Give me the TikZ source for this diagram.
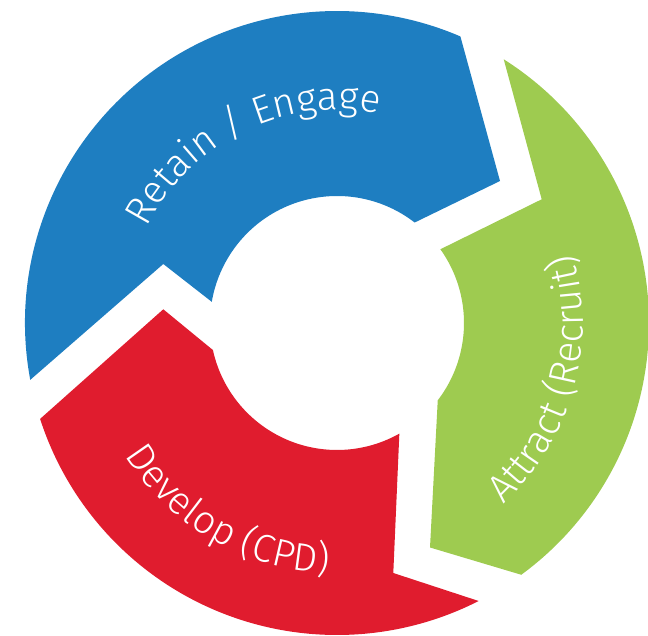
\documentclass[tikz,border=0pt]{standalone}
\usepackage{fontspec}
\IfFontExistsTF{FiraSans-Light.otf}{\setmainfont{FiraSans-Light.otf}\def\lblsize{39}}{%
  \IfFontExistsTF{Fira Sans Light}{\setmainfont{Fira Sans Light}\def\lblsize{39}}{%
    \setmainfont{Carlito}\def\lblsize{42}}}
\usetikzlibrary{decorations.text}
\definecolor{cblue}{RGB}{30,126,193}
\definecolor{cgreen}{RGB}{158,203,80}
\definecolor{cred}{RGB}{224,28,46}
\tikzset{
  lbl/.style={decorate, decoration={text along path, text align=center,
      text={|\fontsize{\lblsize}{44}\selectfont\color{white}|#1}}}
}
\begin{document}
\begin{tikzpicture}[x=1pt,y=1pt]
\useasboundingbox (0,0) rectangle (648,-636);
\begin{scope}[shift={(337,-323)}]
  % Blue: Retain / Engage
  \fill[cblue] (190.5:312) arc[start angle=190.5, end angle=66.7, radius=312]
     -- (163,142) -- (52.3:127) arc[start angle=52.3, end angle=170.4, radius=127]
     -- (-173.7,59) -- cycle;
  % Green: Attract (Recruit)
  \fill[cgreen] (57.7:312) arc[start angle=57.7, end angle=-53.8, radius=312]
     -- (93,-224.5) -- (-37.5:127) arc[start angle=-37.5, end angle=35.5, radius=127]
     -- (204.7,123.7) -- cycle;
  % Red: Develop (CPD)
  \fill[cred] (-173.7,13.7) -- (197.9:312) arc[start angle=197.9, end angle=297, radius=312]
     -- (56.3,-250) -- (299.4:127) arc[start angle=299.4, end angle=192.3, radius=127]
     -- cycle;
  % labels
  \path[lbl={Retain / Engage}] (166:213) arc[start angle=166, end angle=66, radius=213];
  \path[lbl={Attract (Recruit)}] (-67:246) arc[start angle=-67, end angle=36, radius=246];
  \path[lbl={Develop (CPD)}] (188:250) arc[start angle=188, end angle=292, radius=250];
\end{scope}
\end{tikzpicture}
\end{document}
